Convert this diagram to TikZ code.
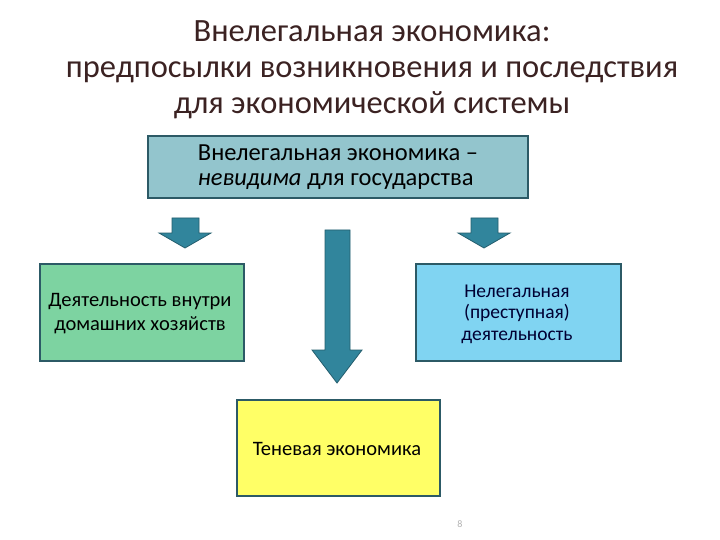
\documentclass[tikz,border=0pt]{standalone}
\usepackage{fontspec}
\setmainfont{Carlito}
\begin{document}
\begin{tikzpicture}[x=1pt,y=-1pt,
  box/.style={draw=boxline,line width=1.6pt,inner sep=0pt,anchor=north west},
  arr/.style={fill=arrfill,draw=arrline,line width=0.8pt,line join=miter},
  txt/.style={align=center,inner sep=0pt}]
\definecolor{boxline}{HTML}{2C5A66}
\definecolor{arrfill}{HTML}{31859C}
\definecolor{arrline}{HTML}{245E6E}
\definecolor{titlec}{HTML}{3B2222}
\definecolor{topfill}{HTML}{93C5CD}
\definecolor{leftfill}{HTML}{7DD3A1}
\definecolor{rightfill}{HTML}{80D4F2}
\definecolor{botfill}{HTML}{FFFF66}
\useasboundingbox (0,0) rectangle (720,540);
\fill[white] (0,0) rectangle (720,540);
% title
\node[txt,text=titlec,font=\fontsize{32.5}{36}\selectfont] (title) at (372,70)
  {Внелегальная экономика:\\предпосылки возникновения и последствия\\для экономической системы};
% boxes
\node[box,fill=topfill,minimum width=380pt,minimum height=62pt] (top) at (147,135) {};
\node[align=left,inner sep=0pt,font=\fontsize{24.5}{25.5}\selectfont] (toptxt) at (338,167)
  {Внелегальная экономика --\\\textit{невидима} для государства};
\node[box,fill=leftfill,minimum width=204pt,minimum height=97pt] (left) at (39,263) {};
\node[txt,font=\fontsize{20.5}{24}\selectfont] (lefttxt) at (140,314)
  {Деятельность внутри\\домашних хозяйств};
\node[box,fill=rightfill,minimum width=205pt,minimum height=97pt] (right) at (415,263) {};
\node[txt,text=black!80!blue,font=\fontsize{19.5}{21.5}\selectfont] (righttxt) at (517,314)
  {Нелегальная\\(преступная)\\деятельность};
\node[box,fill=botfill,minimum width=203pt,minimum height=96pt] (bot) at (236,399) {};
\node[txt,font=\fontsize{20.5}{24}\selectfont] (bottxt) at (337,449) {Теневая экономика};
% arrows
\draw[arr] (172,218) -- (199,218) -- (199,233) -- (211,233) -- (185,248) -- (159,233) -- (172,233) -- cycle;
\draw[arr] (471,218) -- (498,218) -- (498,233) -- (510,233) -- (484,248) -- (458,233) -- (471,233) -- cycle;
\draw[arr] (325,230) -- (350,230) -- (350,350) -- (362,350) -- (337,383) -- (312,350) -- (325,350) -- cycle;
% page number
\node[txt,text=black!30,font=\fontsize{10}{12}\selectfont] (pnum) at (460,524) {8};
\end{tikzpicture}
\end{document}
